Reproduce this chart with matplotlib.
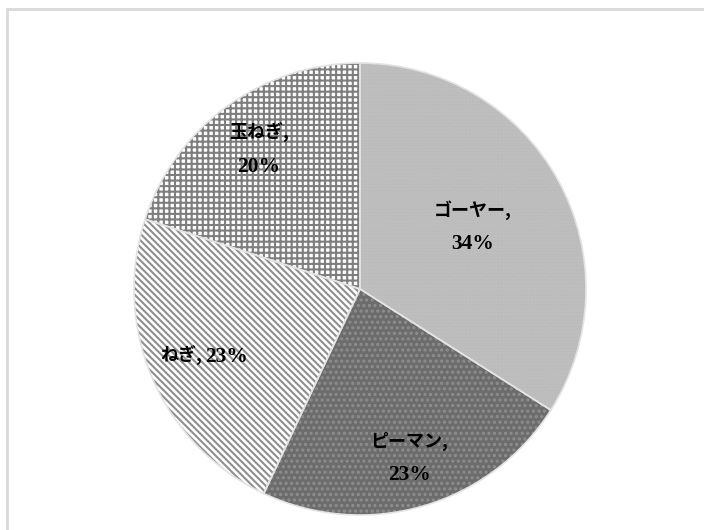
import matplotlib
matplotlib.use('Agg')
import numpy as np
import matplotlib.pyplot as plt
from matplotlib.patches import Rectangle
from matplotlib.offsetbox import TextArea, HPacker, VPacker, AnnotationBbox

# data
labels = ['ゴーヤー', 'ピーマン', 'ねぎ', '玉ねぎ']
shares = [34, 23, 23, 20]
two_line = [True, True, False, True]

# style
face_colors = ['#b4b4b4', '#6c6c6c', '#ffffff', '#ffffff']
hatch_colors = ['#c6c6c6', '#8e8e8e', '#8f8f8f', '#7e7e7e']
hatches = ['......', '...', '\\\\\\\\\\', '+++']
label_dist = [0.57, 0.78, 0.75, 0.76]
jp_font = dict(family=['Noto Sans CJK JP'], size=13, weight='bold', color='black')
num_font = dict(family=['Liberation Serif'], size=15.5, weight='bold', color='black')

plt.rcParams['hatch.linewidth'] = 1.5

W, H = 704, 530
fig = plt.figure(figsize=(W / 100, H / 100), dpi=100)
fig.patches.append(Rectangle((7 / W, -0.05), 1.1, 1 - 9 / H + 0.05,
                             transform=fig.transFigure, fill=False,
                             edgecolor='#d9d9d9', linewidth=2, zorder=0))

cx, cy, r = 360, 289, 226
ax = fig.add_axes([(cx - r) / W, (H - cy - r) / H, 2 * r / W, 2 * r / H])

wedges, _ = ax.pie(shares, startangle=90, counterclock=False, radius=1,
                   colors=face_colors)
for w, hc, h in zip(wedges, hatch_colors, hatches):
    w.set_hatch(h)
    w.set_edgecolor(hc)
    w.set_linewidth(0)

# soft light borders between slices
ax.pie(shares, startangle=90, counterclock=False, radius=1,
       wedgeprops=dict(facecolor='none', edgecolor='#e3e3e3', linewidth=1.2))

for w, name, val, tl, d in zip(wedges, labels, shares, two_line, label_dist):
    ang = np.deg2rad((w.theta1 + w.theta2) / 2)
    name_box = TextArea(name + ',', textprops=jp_font)
    num_box = TextArea(f'{val}%', textprops=num_font)
    if tl:
        box = VPacker(children=[name_box, num_box], align='center', pad=0, sep=10)
    else:
        box = HPacker(children=[name_box, num_box], align='baseline', pad=0, sep=2)
    ab = AnnotationBbox(box, (d * np.cos(ang), d * np.sin(ang)),
                        frameon=False, box_alignment=(0.5, 0.5), pad=0)
    ax.add_artist(ab)

ax.set_xlim(-1, 1)
ax.set_ylim(-1, 1)
ax.set_aspect('equal')
ax.axis('off')

fig.savefig('out.png', dpi=100, facecolor='white')
